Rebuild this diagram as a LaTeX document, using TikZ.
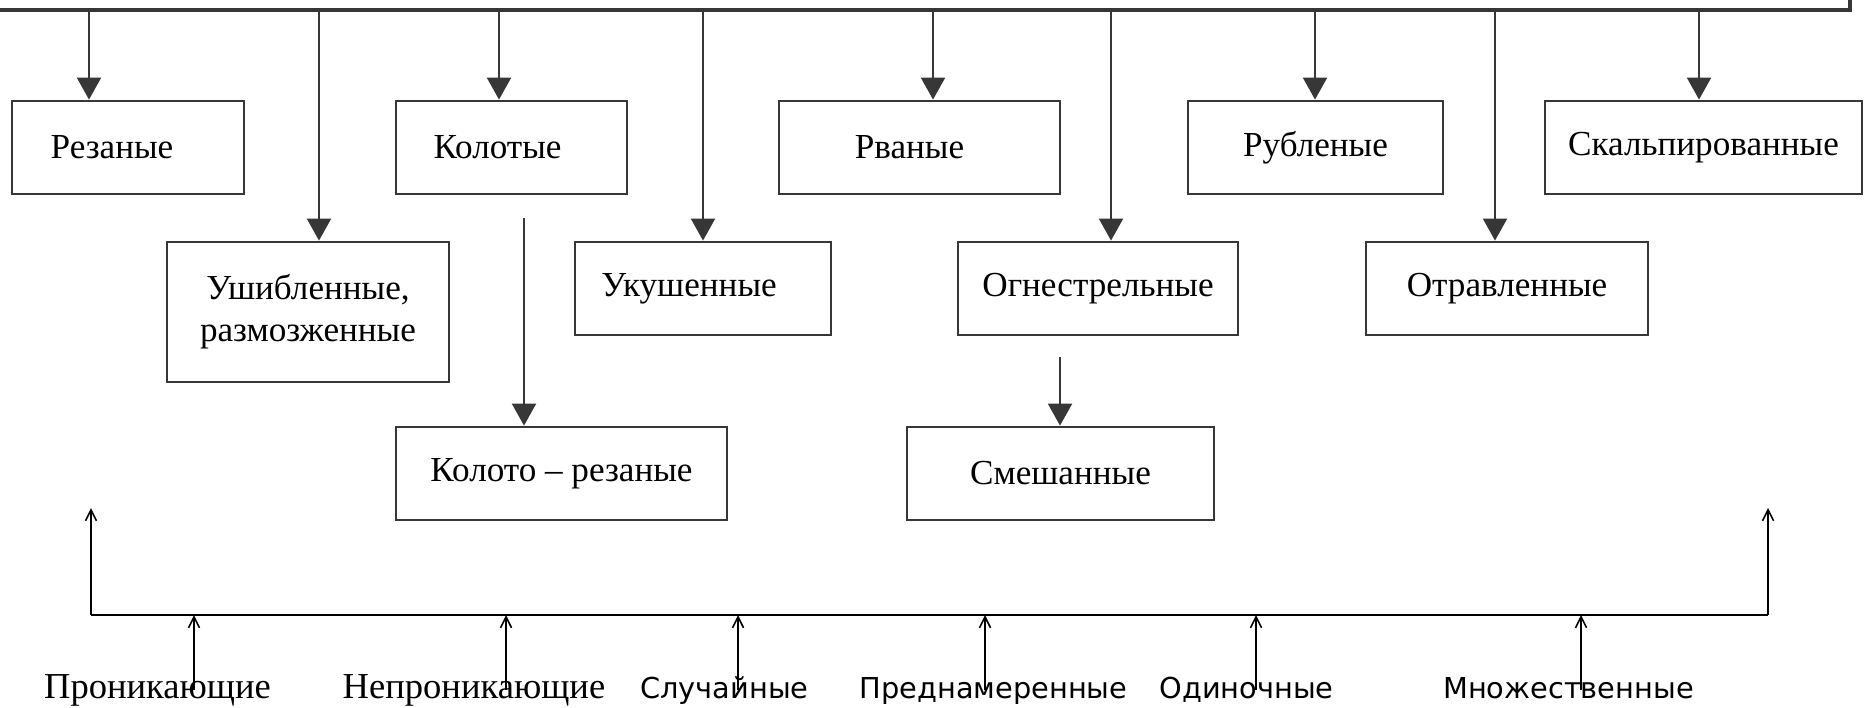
\documentclass[tikz,border=0pt]{standalone}
\usepackage{fontspec}
\setmainfont{Liberation Serif}
\newfontfamily\sanslbl{DejaVu Sans}
\usetikzlibrary{arrows.meta}
\definecolor{ink}{RGB}{55,55,55}
\tikzset{
	box/.style={draw=ink, line width=0.8pt, minimum height=0.93cm, inner sep=0pt, font=\fontsize{10}{12}\selectfont, align=center},
	arr/.style={draw=ink, line width=0.6pt, -{Triangle[width=2.4mm,length=2.2mm]}},
	bus/.style={draw=ink, line width=1pt},
	uparr/.style={draw=black, line width=0.45pt, -{Straight Barb[length=1.1mm,width=1.1mm]}},
	lbl/.style={anchor=base, inner sep=0pt}
}
\begin{document}
\begin{tikzpicture}
		\useasboundingbox (0,0) rectangle (18.66,-7.07);
		\node (rez) at (1.28,-1.475) [box, minimum width=2.32cm] {\hspace*{-0.32cm}Резаные};
		\node (kol) at (5.115,-1.475) [box, minimum width=2.31cm] {\hspace*{-0.28cm}Колотые};
		\node (rvan) at (9.195,-1.475) [box, minimum width=2.81cm] {\hspace*{-0.2cm}Рваные};
		\node (rub) at (13.155,-1.475) [box, minimum width=2.55cm] {Рубленые};
		\node (skal) at (17.035,-1.475) [box, minimum width=3.17cm] {Скальпированные};
		\node (ush) at (3.08,-3.12) [box, minimum width=2.82cm, minimum height=1.40cm] {Ушибленные,\\размозженные};
		\node (uk) at (7.03,-2.885) [box, minimum width=2.56cm] {\hspace*{-0.28cm}Укушенные};
		\node (ogn) at (10.98,-2.885) [box, minimum width=2.80cm] {Огнестрельные};
		\node (otr) at (15.07,-2.885) [box, minimum width=2.82cm] {Отравленные};
		\node (kolrez) at (5.615,-4.735) [box, minimum width=3.31cm] {Колото – резаные};
		\node (smesh) at (10.605,-4.735) [box, minimum width=3.07cm] {Смешанные};
		\coordinate (busl) at (0,-0.10);
		\coordinate (busr) at (18.50,-0.10);
		\coordinate (busu) at (18.50,0);
		\draw [bus] (busl) -- (busr) -- (busu);
		\foreach \b/\x in {rez/0.89, ush/3.19, kol/4.99, uk/7.03, rvan/9.33, ogn/11.11, rub/13.15, otr/14.95, skal/16.99} {
			\coordinate (t\b) at (\x,-0.10);
			\draw [arr] (t\b) -- (t\b |- \b.north);
		}
		\coordinate (kk) at (5.24,-2.18);
		\draw [arr] (kk) -- (kk |- kolrez.north);
		\coordinate (os) at (10.60,-3.57);
		\draw [arr] (os) -- (os |- smesh.north);
		\coordinate (bl) at (0.91,-6.15);
		\coordinate (br) at (17.68,-6.15);
		\coordinate (blt) at (0.91,-5.08);
		\coordinate (brt) at (17.68,-5.08);
		\draw [uparr] (bl) -- (blt);
		\draw [uparr] (br) -- (brt);
		\draw [draw=black, line width=0.45pt] (bl) -- (br);
		\foreach \n/\tx/\ax/\t in {pron/1.575/1.94/{\fontsize{10.4}{12}\selectfont Проникающие}, nepr/4.74/5.06/{\fontsize{10.4}{12}\selectfont Непроникающие}, sluch/7.245/7.38/{\sanslbl\fontsize{8.2}{10}\selectfont Случайные}, predn/9.935/9.85/{\sanslbl\fontsize{8.2}{10}\selectfont Преднамеренные}, odin/12.465/12.56/{\sanslbl\fontsize{8.2}{10}\selectfont Одиночные}, mnozh/15.685/15.81/{\sanslbl\fontsize{8.2}{10}\selectfont Множественные}} {
			\node (\n) at (\tx,-6.98) [lbl] {\t};
			\coordinate (a\n) at (\ax,-6.90);
			\draw [uparr] (a\n) -- (a\n |- bl);
		}
	\end{tikzpicture}
\end{document}
